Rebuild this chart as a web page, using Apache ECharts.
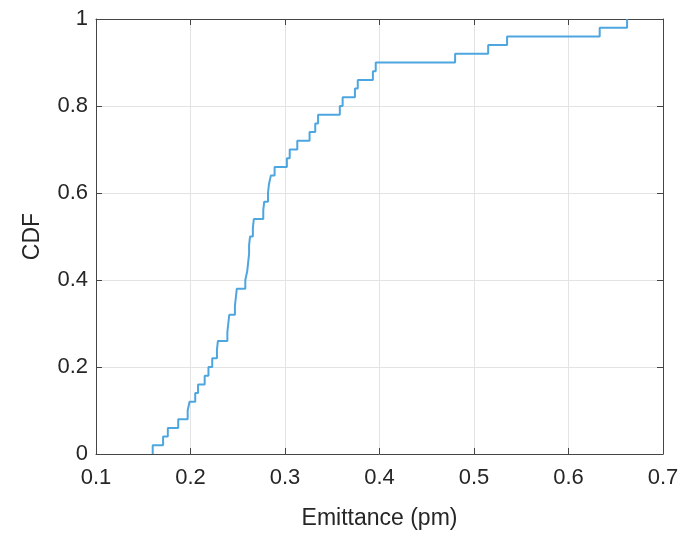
<!DOCTYPE html>
<html>
<head>
<meta charset="utf-8">
<script src="https://cdn.jsdelivr.net/npm/echarts@6/dist/echarts.min.js"></script>
<style>
html,body{margin:0;padding:0;background:#fff;}
#chart{width:682px;height:535px;}
</style>
</head>
<body>
<div id="chart"></div>
<script>
// Sorted emittance samples (pm)
var emittance = [0.160, 0.171, 0.176, 0.187, 0.197, 0.199, 0.205, 0.208, 0.215, 0.219,
                 0.223, 0.228, 0.229, 0.239, 0.240, 0.241, 0.247, 0.248, 0.249, 0.258,
                 0.260, 0.261, 0.262, 0.262, 0.263, 0.266, 0.267, 0.277, 0.278, 0.282,
                 0.283, 0.285, 0.289, 0.302, 0.305, 0.313, 0.326, 0.332, 0.335, 0.358,
                 0.361, 0.374, 0.377, 0.393, 0.396, 0.480, 0.515, 0.535, 0.633, 0.662];
// CDF level reached at each sample
var cdf = [0.02, 0.04, 0.06, 0.08, 0.10, 0.12, 0.14, 0.16, 0.18, 0.20,
           0.22, 0.24, 0.26, 0.28, 0.30, 0.32, 0.34, 0.36, 0.38, 0.40,
           0.42, 0.44, 0.46, 0.48, 0.50, 0.52, 0.54, 0.56, 0.58, 0.60,
           0.62, 0.64, 0.66, 0.68, 0.70, 0.72, 0.74, 0.76, 0.78, 0.80,
           0.82, 0.84, 0.86, 0.88, 0.90, 0.92, 0.94, 0.96, 0.98, 1.00];
var xTicks = [0.1, 0.2, 0.3, 0.4, 0.5, 0.6, 0.7];
var yTicks = [0, 0.2, 0.4, 0.6, 0.8, 1];

var data = [[emittance[0], 0]];
for (var i = 0; i < emittance.length; i++) data.push([emittance[i], cdf[i]]);

var axisColor = '#454545';
var textColor = '#262626';
var fontFam = '"Liberation Sans", Arial, Helvetica, sans-serif';
function fmt(v){ return String(+(+v).toFixed(2)); }

var chart = echarts.init(document.getElementById('chart'), null, {renderer:'canvas'});
chart.setOption({
  animation: false,
  backgroundColor: '#ffffff',
  grid: {left: 96, right: 19, top: 19, bottom: 81, containLabel: false},
  xAxis: [{
    type: 'value', position: 'bottom',
    min: xTicks[0], max: xTicks[xTicks.length-1], interval: 0.1,
    name: 'Emittance (pm)', nameLocation: 'middle', nameGap: 53,
    nameTextStyle: {fontFamily: fontFam, fontSize: 23, color: textColor},
    axisLine: {show: true, onZero: false, lineStyle: {color: axisColor, width: 1}},
    axisTick: {show: true, inside: true, length: 6, lineStyle: {color: axisColor}},
    axisLabel: {fontFamily: fontFam, fontSize: 22, color: textColor, margin: 13, formatter: fmt},
    splitLine: {show: true, lineStyle: {color: '#e3e3e3', width: 1}}
  }, {
    type: 'value', position: 'top',
    min: xTicks[0], max: xTicks[xTicks.length-1], interval: 0.1,
    axisLine: {show: true, onZero: false, lineStyle: {color: axisColor, width: 1}},
    axisTick: {show: true, inside: true, length: 6, lineStyle: {color: axisColor}},
    axisLabel: {show: false},
    splitLine: {show: false}
  }],
  yAxis: [{
    type: 'value', position: 'left',
    min: yTicks[0], max: yTicks[yTicks.length-1], interval: 0.2,
    name: 'CDF', nameLocation: 'middle', nameGap: 52,
    nameTextStyle: {fontFamily: fontFam, fontSize: 23, color: textColor},
    axisLine: {show: true, onZero: false, lineStyle: {color: axisColor, width: 1}},
    axisTick: {show: true, inside: true, length: 6, lineStyle: {color: axisColor}},
    axisLabel: {fontFamily: fontFam, fontSize: 22, color: textColor, margin: 8, formatter: fmt},
    splitLine: {show: true, lineStyle: {color: '#e3e3e3', width: 1}}
  }, {
    type: 'value', position: 'right',
    min: yTicks[0], max: yTicks[yTicks.length-1], interval: 0.2,
    axisLine: {show: true, onZero: false, lineStyle: {color: axisColor, width: 1}},
    axisTick: {show: true, inside: true, length: 6, lineStyle: {color: axisColor}},
    axisLabel: {show: false},
    splitLine: {show: false}
  }],
  series: [{
    type: 'line', step: 'end', xAxisIndex: 0, yAxisIndex: 0,
    data: data, showSymbol: false, symbol: 'none',
    lineStyle: {color: '#4ea6e0', width: 2},
    z: 3
  }]
});
</script>
</body>
</html>
